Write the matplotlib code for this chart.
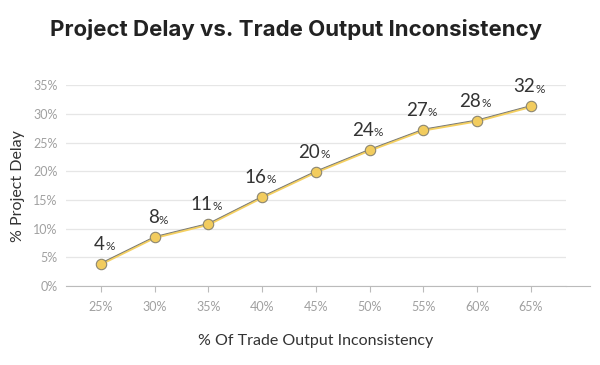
import matplotlib.pyplot as plt
import matplotlib.transforms as mtrans
import numpy as np

# data
categories = ['25%', '30%', '35%', '40%', '45%', '50%', '55%', '60%', '65%']
delay = [3.9, 8.5, 10.8, 15.5, 19.9, 23.7, 27.2, 28.8, 31.3]
labels = ['4', '8', '11', '16', '20', '24', '27', '28', '32']
yticks = [0, 5, 10, 15, 20, 25, 30, 35]

plt.rcParams['font.family'] = ['Lato', 'DejaVu Sans']

fig = plt.figure(figsize=(6, 3.65), dpi=100)
ax = fig.add_axes([0.11, 0.216, 0.833, 0.551])

x = np.arange(len(categories))
# yellow line with a thin grey edge on top
up = mtrans.offset_copy(ax.transData, fig=fig, x=0, y=0.5, units='points')
down = mtrans.offset_copy(ax.transData, fig=fig, x=0, y=-0.4, units='points')
ax.plot(x, delay, color='#F5D061', lw=1.6, transform=down, zorder=3)
ax.plot(x, delay, color='#7A7A72', lw=0.7, transform=up, zorder=3)
ax.plot(x, delay, ls='none', marker='o', ms=7.5,
        mfc='#F2CC5E', mec='#8C8670', mew=0.8, zorder=4)

for xi, yi, lab in zip(x, delay, labels):
    ax.annotate(lab, (xi, yi), xytext=(3, 8), textcoords='offset points',
                ha='right', va='bottom', fontsize=13.5, color='#333333')
    ax.annotate('%', (xi, yi), xytext=(3, 8.5), textcoords='offset points',
                ha='left', va='bottom', fontsize=8.5, color='#333333')

ax.set_xlim(-0.65, 8.65)
ax.set_ylim(0, 35)
ax.set_xticks(x)
ax.set_xticklabels(categories)
ax.set_yticks(yticks)
ax.set_yticklabels([f'{t}%' for t in yticks])
ax.tick_params(axis='x', colors='#A0A0A0', labelsize=9, length=4, color='#BBBBBB', pad=7)
ax.tick_params(axis='y', colors='#A0A0A0', labelsize=9, length=0, pad=6)
ax.grid(axis='y', color='#E6E6E6', lw=0.9)
ax.set_axisbelow(True)
for s in ['top', 'right', 'left']:
    ax.spines[s].set_visible(False)
ax.spines['bottom'].set_color('#BBBBBB')
# bottom axis line runs past the last gridline
ax.plot([8.65, 9.1], [0, 0], color='#BBBBBB', lw=0.8, clip_on=False)

ax.set_xlabel('% Of Trade Output Inconsistency', fontsize=11.5, color='#333333', labelpad=15)
ax.set_ylabel('% Project Delay', fontsize=11.5, color='#333333', labelpad=6)

fig.text(0.083, 0.918, 'Project Delay vs. Trade Output Inconsistency',
         fontsize=16, fontweight='bold', color='#222222', va='center',
         family=['Inter', 'DejaVu Sans'])

fig.savefig('out.png', dpi=100)
